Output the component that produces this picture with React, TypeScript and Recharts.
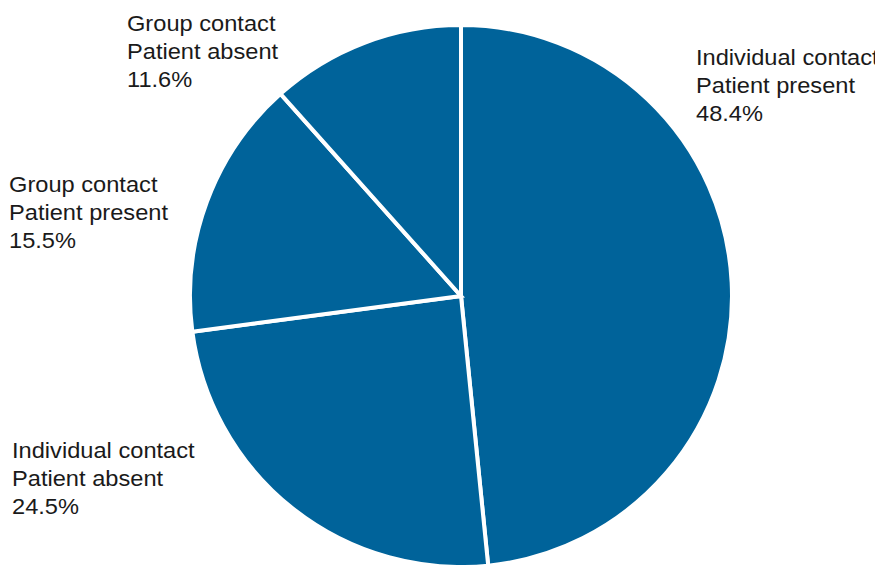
import { PieChart, Pie, Cell } from "recharts";

// slice order: clockwise from 12 o'clock
const contactTypes = ["Individual contact", "Individual contact", "Group contact", "Group contact"];
const patientStatus = ["Patient present", "Patient absent", "Patient present", "Patient absent"];
const shares = [48.4, 24.5, 15.5, 11.6];

const data = shares.map((value, i) => ({
  name: `${contactTypes[i]} ${patientStatus[i]}`,
  contact: contactTypes[i],
  status: patientStatus[i],
  value,
}));

// hand placed label anchors (left x, first baseline y), in svg coords
const labelPos = [
  { x: 688, y: 57 },
  { x: 4, y: 450 },
  { x: 1, y: 184 },
  { x: 119, y: 23 },
];

const FILL = "#00639a";

const renderLabel = (props: any) => {
  const { index } = props;
  const d = data[index];
  const p = labelPos[index];
  // source text is a little wider than Liberation Sans, stretch it
  return (
    <text
      x={p.x}
      y={p.y}
      fill="#1a1a1a"
      fontSize={22}
      fontFamily="'Liberation Sans', Arial, sans-serif"
      textAnchor="start"
      transform={`translate(${p.x},0) scale(1.075,1) translate(${-p.x},0)`}
    >
      <tspan x={p.x} y={p.y}>{d.contact}</tspan>
      <tspan x={p.x} y={p.y + 28}>{d.status}</tspan>
      <tspan x={p.x} y={p.y + 56}>{d.value.toFixed(1)}%</tspan>
    </text>
  );
};

export default function App() {
  return (
    <PieChart width={875} height={557} margin={{ top: 0, right: 0, bottom: 0, left: 0 }}>
      <Pie
        data={data}
        dataKey="value"
        nameKey="name"
        cx={453}
        cy={288}
        outerRadius={271}
        startAngle={90}
        endAngle={-270}
        stroke="#ffffff"
        strokeWidth={4}
        label={renderLabel}
        labelLine={false}
        isAnimationActive={false}
      >
        {data.map((d) => (
          <Cell key={d.name} fill={FILL} />
        ))}
      </Pie>
    </PieChart>
  );
}
